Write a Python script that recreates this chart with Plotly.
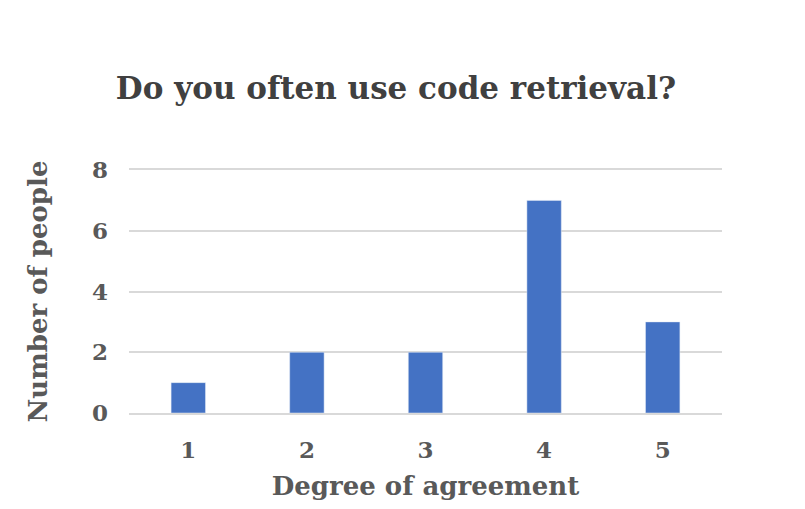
import plotly.graph_objects as go

# survey answers: degree of agreement vs how many people picked it
degrees = ["1", "2", "3", "4", "5"]
people = [1, 2, 2, 7, 3]

font_family = "DejaVu Serif"

fig = go.Figure(go.Bar(x=degrees, y=people, marker=dict(color="#4472C4"), width=0.29))

# the page adds an 8px body margin, so margins are shifted by that amount
fig.update_layout(
    width=805,
    height=509,
    paper_bgcolor="white",
    plot_bgcolor="white",
    margin=dict(l=121, r=91, t=162, b=104),
    showlegend=False,
    title=dict(text="<b>Do you often use code retrieval?</b>",
               x=388 / 805, xanchor="center", y=1 - 80 / 509, yanchor="middle",
               font=dict(family=font_family, size=31, color="#404040")),
)

# mirrored axis line gives the top gridline at 8
fig.update_xaxes(
    type="category",
    showgrid=False,
    showline=True, mirror=True, linecolor="#d9d9d9", linewidth=1.5,
    ticks="", ticklabelstandoff=16,
    tickfont=dict(family=font_family, size=23, color="#595959", weight="bold"),
    title=dict(text="<b>Degree of agreement</b>", standoff=14,
               font=dict(family=font_family, size=26, color="#595959")),
)

fig.update_yaxes(
    range=[0, 8], dtick=2,
    showgrid=True, gridcolor="#d9d9d9", gridwidth=1.5,
    zeroline=False, showline=False, ticks="", ticklabelstandoff=20,
    tickfont=dict(family=font_family, size=23, color="#595959", weight="bold"),
    title=dict(text="<b>Number of people</b>", standoff=36,
               font=dict(family=font_family, size=26, color="#595959")),
)

fig.write_html("out.html")
